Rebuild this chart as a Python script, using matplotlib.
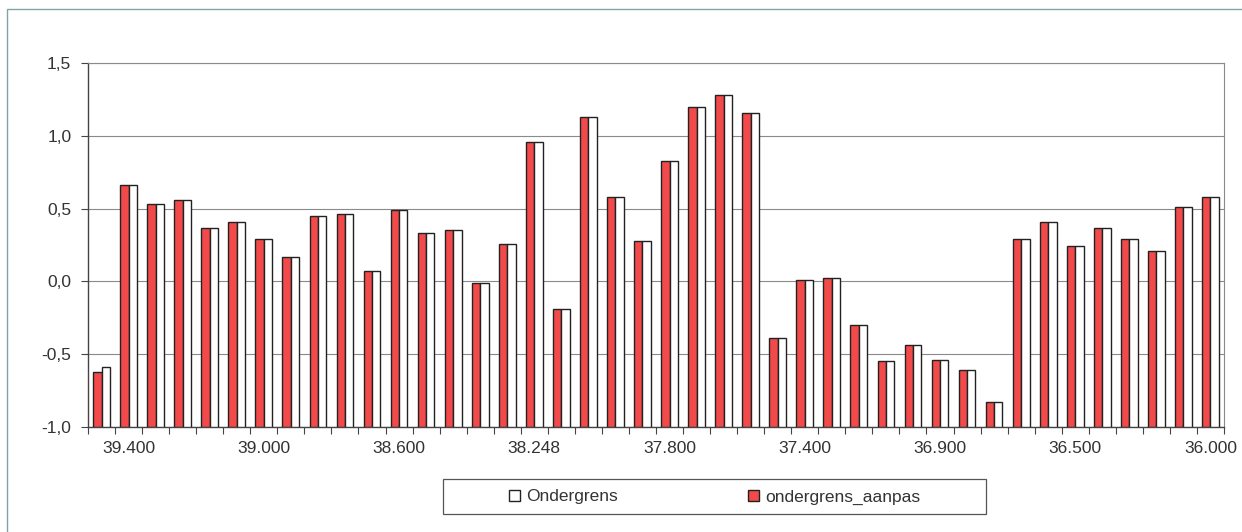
import matplotlib.pyplot as plt
import numpy as np
from matplotlib.patches import Rectangle

plt.rcParams['font.family'] = ['Liberation Sans', 'DejaVu Sans']

# kilometrering (alleen elke 5e waarde staat als label op de as)
labels = ['', '39.400', '', '', '', '', '39.000', '', '', '', '',
          '38.600', '', '', '', '', '38.248', '', '', '', '',
          '37.800', '', '', '', '', '37.400', '', '', '', '',
          '36.900', '', '', '', '', '36.500', '', '', '', '', '36.000']

ondergrens_aanpas = [-0.62, 0.66, 0.53, 0.56, 0.37, 0.41, 0.29, 0.17, 0.45, 0.46,
                     0.07, 0.49, 0.33, 0.35, -0.01, 0.26, 0.96, -0.19, 1.13, 0.58,
                     0.28, 0.83, 1.20, 1.28, 1.16, -0.39, 0.01, 0.02, -0.30, -0.55,
                     -0.44, -0.54, -0.61, -0.83, 0.29, 0.41, 0.24, 0.37, 0.29, 0.21,
                     0.51, 0.58]

ondergrens = [-0.59, 0.66, 0.53, 0.56, 0.37, 0.41, 0.29, 0.17, 0.45, 0.46,
              0.07, 0.49, 0.33, 0.35, -0.01, 0.26, 0.96, -0.19, 1.13, 0.58,
              0.28, 0.83, 1.20, 1.28, 1.16, -0.39, 0.01, 0.02, -0.30, -0.55,
              -0.44, -0.54, -0.61, -0.83, 0.29, 0.41, 0.24, 0.37, 0.29, 0.21,
              0.51, 0.58]

basis = -1.0
rood = '#f24a4a'
n = len(labels)
x = np.arange(n)
w = 0.31
W, H = 1242, 532

fig = plt.figure(figsize=(W / 100, H / 100), dpi=100)
ax = fig.add_axes([88 / W, 1 - 427 / H, (1224 - 88) / W, (427 - 63) / H])

# buitenkader van de grafiek
fig.patches.append(Rectangle((7 / W, -0.1), 1.2, 1 - 9 / H + 0.1,
                             transform=fig.transFigure, fill=False,
                             edgecolor='#86a3a3', linewidth=1.0))

b1 = ax.bar(x - w / 2, np.array(ondergrens_aanpas) - basis, w, bottom=basis,
            color=rood, edgecolor='#222222', linewidth=1.0, zorder=3,
            label='ondergrens_aanpas')
b2 = ax.bar(x + w / 2, np.array(ondergrens) - basis, w, bottom=basis,
            color='white', edgecolor='#222222', linewidth=1.0, zorder=3,
            label='Ondergrens')

ax.set_xlim(-0.5, n - 0.5)
ax.set_ylim(-1.0, 1.5)
yt = [-1.0, -0.5, 0.0, 0.5, 1.0, 1.5]
ax.set_yticks(yt)
ax.set_yticklabels([f'{v:.1f}'.replace('.', ',') for v in yt])
ax.yaxis.grid(True, color='#8a8a8a', linewidth=0.8, zorder=0)

ax.set_xticks(np.arange(n + 1) - 0.5)
ax.set_xticklabels([])
ax.set_xticks(x, minor=True)
ax.set_xticklabels(labels, minor=True)
ax.tick_params(axis='x', which='major', length=5, direction='out', color='#444444')
ax.tick_params(axis='x', which='minor', length=0, pad=10)
ax.tick_params(axis='y', length=5, direction='out', color='#444444', pad=7)
ax.tick_params(which='both', labelsize=12.5, labelcolor='#333333')

for s in ['top', 'right']:
    ax.spines[s].set_color('#8a8a8a')
    ax.spines[s].set_linewidth(0.8)
for s in ['left', 'bottom']:
    ax.spines[s].set_color('#444444')
    ax.spines[s].set_linewidth(1.0)

# legendakader
fig.patches.append(Rectangle((443 / W, 1 - 514 / H), (986 - 443) / W, 35 / H,
                             transform=fig.transFigure, fill=True,
                             facecolor='white', edgecolor='#555555', linewidth=0.9))
leg = fig.legend(handles=[b2, b1], labels=['Ondergrens', 'ondergrens_aanpas'],
                 loc='center', bbox_to_anchor=(715 / W, 1 - 497 / H),
                 ncol=2, columnspacing=7.5, handlelength=0.63, handleheight=0.63,
                 handletextpad=0.35, fontsize=12.5, frameon=False,
                 borderpad=0.2, borderaxespad=0)
for t in leg.get_texts():
    t.set_color('#333333')

fig.savefig('out.png', dpi=100)
